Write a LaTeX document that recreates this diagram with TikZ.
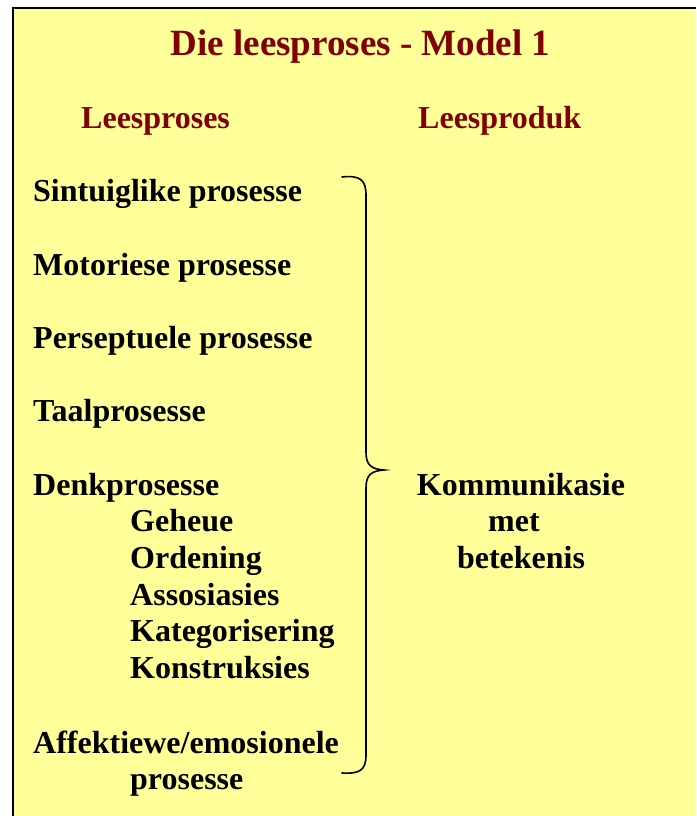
\documentclass[tikz,border=0pt]{standalone}
\usepackage{fontspec}
\setmainfont{Liberation Serif}
\definecolor{bgyellow}{HTML}{FFFF99}
\definecolor{titlered}{HTML}{800000}
\begin{document}
\begin{tikzpicture}[x=1pt,y=-1pt,
  txt/.style={anchor=base west,inner sep=0pt,font=\fontsize{32}{36.7}\selectfont\bfseries},
  head/.style={txt,text=titlered},
  brace/.style={line width=1.6pt,line cap=round}]
\useasboundingbox (0,0) rectangle (696,816);
\fill[bgyellow] (13,8) rectangle (696,816);
\draw[line width=2.5pt] (13,816) -- (13,8) -- (696,8);
% title
\node[head,anchor=base,font=\fontsize{37}{42}\selectfont\bfseries] (title) at (360.5,56) {Die leesproses - Model 1};
\node[head] (h1) at (81,128) {Leesproses};
\node[head] (h2) at (418,128) {Leesproduk};
% left column
\node[txt] (p1) at (33,201) {Sintuiglike prosesse};
\node[txt] (p2) at (33,275) {Motoriese prosesse};
\node[txt] (p3) at (33,348) {Perseptuele prosesse};
\node[txt] (p4) at (33,421) {Taalprosesse};
\node[txt] (p5) at (33,495) {Denkprosesse};
\node[txt] (d1) at (130,531.5) {Geheue};
\node[txt] (d2) at (130,568) {Ordening};
\node[txt] (d3) at (130,605) {Assosiasies};
\node[txt] (d4) at (130,641.5) {Kategorisering};
\node[txt] (d5) at (130,678) {Konstruksies};
\node[txt] (p6) at (33,753) {Affektiewe/emosionele};
\node[txt] (p6b) at (130,789) {prosesse};
% right column
\node[txt,anchor=base] (r1) at (521,495) {Kommunikasie};
\node[txt,anchor=base] (r2) at (514,531.5) {met};
\node[txt,anchor=base] (r3) at (521,568) {betekenis};
% brace
\draw[brace] (342,177) .. controls (360,175) and (366,180) .. (366,195)
  -- (366,452) .. controls (366,466) and (372,469) .. (384,470)
  .. controls (372,471) and (366,474) .. (366,488)
  -- (366,755) .. controls (366,770) and (360,774) .. (342,773);
\end{tikzpicture}
\end{document}
